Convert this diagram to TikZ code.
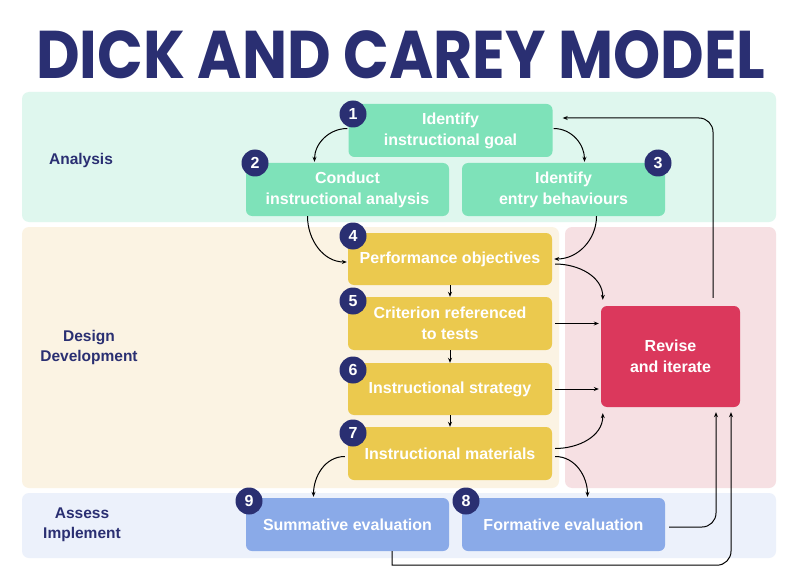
\documentclass[tikz,border=0pt]{standalone}
\usepackage{graphicx}
\usepackage{fontspec}
\setmainfont{Liberation Sans}
\newfontfamily\titlefont{Poppins}
\usetikzlibrary{calc,arrows.meta}
\definecolor{navy}{HTML}{2A2F72}
\definecolor{bandG}{HTML}{DFF7EE}
\definecolor{bandY}{HTML}{FBF3E3}
\definecolor{bandP}{HTML}{F6E0E3}
\definecolor{bandB}{HTML}{ECF1FB}
\definecolor{boxG}{HTML}{7EE2B9}
\definecolor{boxY}{HTML}{EBC94E}
\definecolor{boxB}{HTML}{8AAAE8}
\definecolor{boxR}{HTML}{DB385C}
\tikzset{
  band/.style={fill=#1, draw=none, rounded corners=7pt},
  stepbox/.style={fill=#1, draw=none, rounded corners=6pt, text=white, align=center,
    minimum width=204pt, minimum height=53pt, inner sep=2pt,
    font=\fontsize{16}{21}\selectfont\bfseries},
  num/.style={circle, fill=navy, text=white, minimum size=27pt, inner sep=0pt,
    font=\fontsize{16}{16}\selectfont\bfseries},
  lbl/.style={text=navy, align=center, font=\fontsize{15.5}{20}\selectfont\bfseries},
  arr/.style={draw=black, line width=1pt, -{Stealth[length=5pt,width=4pt]}},
}
\begin{document}
\begin{tikzpicture}[x=1pt,y=-1pt]
\useasboundingbox[fill=white] (0,0) rectangle (800,572);
% title
\node[anchor=north west, inner sep=0pt, text=navy] (title) at (36,30)
  {\resizebox{729pt}{48pt}{\titlefont\bfseries DICK AND CAREY MODEL}};
% bands
\fill[band=bandG] (22,92) rectangle (776,222);
\fill[band=bandY] (22,227) rectangle (559,488);
\fill[band=bandP] (565,227) rectangle (776,488);
\fill[band=bandB] (22,493) rectangle (776,558);
% side labels
\node[lbl] (la) at (81,160) {Analysis};
\node[lbl] (ld) at (89,347) {Design\\Development};
\node[lbl] (li) at (82,525) {Assess\\Implement};
% boxes
\node[stepbox=boxG] (b1) at (450.5,130.5) {Identify\\instructional goal};
\node[stepbox=boxG, minimum width=203pt] (b2) at (347.5,189.5) {Conduct\\instructional analysis};
\node[stepbox=boxG, minimum width=203pt] (b3) at (563.5,189.5) {Identify\\entry behaviours};
\node[stepbox=boxY, minimum height=52pt] (b4) at (450,259) {Performance objectives};
\node[stepbox=boxY] (b5) at (450,323.5) {Criterion referenced\\to tests};
\node[stepbox=boxY, minimum height=52pt] (b6) at (450,389) {Instructional strategy};
\node[stepbox=boxY] (b7) at (450,453.5) {Instructional materials};
\node[stepbox=boxB, minimum width=203pt] (b9) at (347.5,524.5) {Summative evaluation};
\node[stepbox=boxB, minimum width=203pt] (b8) at (563.5,524.5) {Formative evaluation};
\node[stepbox=boxR, minimum width=139pt, minimum height=101pt] (rev) at (670.5,356.5) {Revise\\and iterate};
% numbers
\node[num] (n1) at (353,114) {1};
\node[num] (n2) at (255,163) {2};
\node[num] (n3) at (658,163) {3};
\node[num] (n4) at (353,236) {4};
\node[num] (n5) at (353,301) {5};
\node[num] (n6) at (353,370) {6};
\node[num] (n7) at (353,433) {7};
\node[num] (n9) at (249,501) {9};
\node[num] (n8) at (466,501) {8};
% connectors
\draw[arr] ($(b1.west)+(-1,-2)$) to[out=180,in=90] ($(b2.north)+(-33,-1)$);
\draw[arr] ($(b1.east)+(1,-2)$) to[out=0,in=90] ($(b3.north)+(21,-1)$);
\draw[arr, rounded corners=14pt] ($(rev.north)+(42.5,-8)$) |- ($(b1.east)+(10,-12.5)$);
\draw[arr] ($(b2.south)+(-40,0)$) to[out=-90,in=180] ($(b4.west)+(-1,3)$);
\draw[arr] ($(b3.south)+(33,0)$) to[out=-90,in=0] ($(b4.east)+(2,0)$);
\draw[arr] (b4.south) -- (b5.north);
\draw[arr] (b5.south) -- (b6.north);
\draw[arr] (b6.south) -- (b7.north);
\draw[arr] ($(b4.east)+(3,5)$) to[out=0,in=90] ($(rev.north west)+(2,-6)$);
\draw[arr, shorten >=2pt] ($(b5.east)+(3,0)$) -- (rev.west |- b5.east);
\draw[arr, shorten >=2pt] ($(b6.east)+(3,0)$) -- (rev.west |- b6.east);
\draw[arr] ($(b7.east)+(3,-5)$) to[out=0,in=-90] ($(rev.south west)+(2,6)$);
\draw[arr] ($(b7.west)+(-3,3)$) to[out=180,in=90] ($(b9.north)+(-34,-1)$);
\draw[arr] ($(b7.east)+(3,3)$) to[out=0,in=90] ($(b8.north)+(24,-1)$);
\draw[arr, rounded corners=14pt] ($(b8.east)+(4,2.5)$) -| ($(rev.south)+(45.5,5)$);
\draw[arr] ($(b9.south)+(44.5,0)$) -- ($(b9.south)+(44.5,14)$)
  [rounded corners=14pt] -- ($(rev.south)+(60.5,158)$) -- ($(rev.south)+(60.5,5)$);
\end{tikzpicture}
\end{document}
